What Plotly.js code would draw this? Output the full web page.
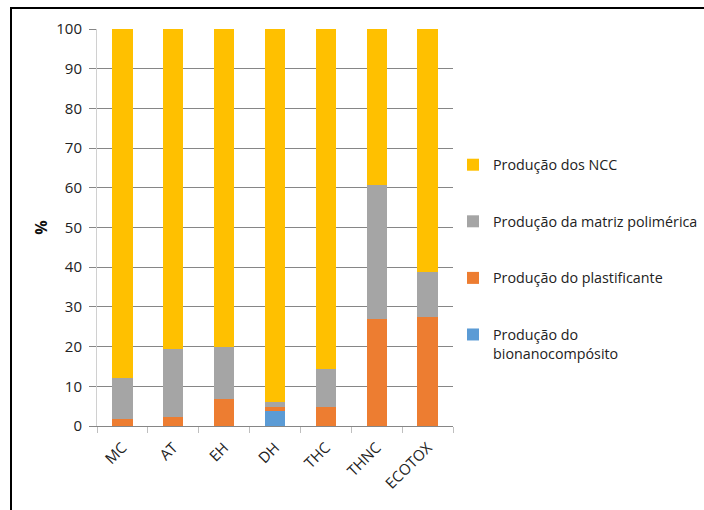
<!DOCTYPE html>
<html>
<head>
<meta charset="utf-8">
<script src="https://cdn.plot.ly/plotly-3.0.1.min.js"></script>
<style>
  html, body { margin: 0; padding: 0; background: #ffffff; }
  #frame {
    position: absolute; left: 10px; top: 7px; right: 0; bottom: 0;
    border-top: 2px solid #000000; border-left: 2px solid #000000;
  }
  #chart { position: absolute; left: 0; top: 0; width: 704px; height: 510px; }
</style>
</head>
<body>
<div id="frame"></div>
<div id="chart"></div>
<script>
// Impact categories on the x axis
const categories = ['MC', 'AT', 'EH', 'DH', 'THC', 'THNC', 'ECOTOX'];

// Contribution of each production stage (%), stacked bottom to top
const bionanocomposito = [0, 0, 0, 3.8, 0, 0, 0];
const plastificante    = [1.7, 2.3, 6.9, 1.0, 4.9, 26.9, 27.4];
const matrizPolimerica = [10.5, 17.0, 12.9, 1.3, 9.4, 33.9, 11.5];
const ncc              = [87.8, 80.7, 80.2, 93.9, 85.7, 39.2, 61.1];

const seriesNames = [
  'Produção do<br>bionanocompósito',
  'Produção do plastificante',
  'Produção da matriz polimérica',
  'Produção dos NCC'
];
const seriesValues = [bionanocomposito, plastificante, matrizPolimerica, ncc];
const seriesColors = ['#5B9BD5', '#ED7D31', '#A5A5A5', '#FFC000'];

// Legend lists the top of the stack first
const traces = seriesValues.map((vals, i) => ({
  type: 'bar',
  x: categories,
  y: vals,
  name: seriesNames[i],
  legendgroup: 'g' + i,
  legendrank: 1000 - i,
  marker: { color: seriesColors[i], line: { width: 0 } },
  hoverinfo: 'x+y+name'
}));

const fontFamily = '"Open Sans", "Noto Sans", sans-serif';

const layout = {
  width: 704,
  height: 510,
  margin: { l: 97, r: 251, t: 29, b: 84, pad: 0 },
  paper_bgcolor: 'rgba(0,0,0,0)',
  plot_bgcolor: 'rgba(0,0,0,0)',
  barmode: 'stack',
  bargap: 0.6,
  font: { family: fontFamily, color: '#222222', size: 15 },
  showlegend: true,
  legend: {
    xref: 'container', yref: 'container',
    x: 0.6435, xanchor: 'left',
    y: 0.708, yanchor: 'top',
    traceorder: 'grouped',
    tracegroupgap: 35,
    valign: 'top',
    font: { family: fontFamily, size: 14.3, color: '#222222' },
    bgcolor: 'rgba(0,0,0,0)'
  },
  xaxis: {
    type: 'category',
    tickangle: -45,
    tickson: 'boundaries',
    ticks: 'outside',
    ticklen: 6,
    tickcolor: '#BFBFBF',
    ticklabelstandoff: 6,
    showline: true,
    linecolor: '#868686',
    linewidth: 1,
    showgrid: false,
    tickfont: { family: fontFamily, size: 15, color: '#222222' },
    automargin: false
  },
  yaxis: {
    range: [0, 100],
    dtick: 10,
    ticks: 'outside',
    ticklen: 7,
    tickcolor: '#868686',
    ticklabelstandoff: 4,
    showline: true,
    linecolor: '#D0D0D0',
    linewidth: 1,
    showgrid: true,
    gridcolor: '#868686',
    gridwidth: 1,
    zeroline: false,
    tickfont: { family: fontFamily, size: 15, color: '#222222' },
    title: { text: '<b>%</b>', standoff: 4, font: { family: fontFamily, size: 16, color: '#111111' } },
    automargin: false
  }
};

Plotly.newPlot('chart', traces, layout, { displayModeBar: false, staticPlot: true });
</script>
</body>
</html>
